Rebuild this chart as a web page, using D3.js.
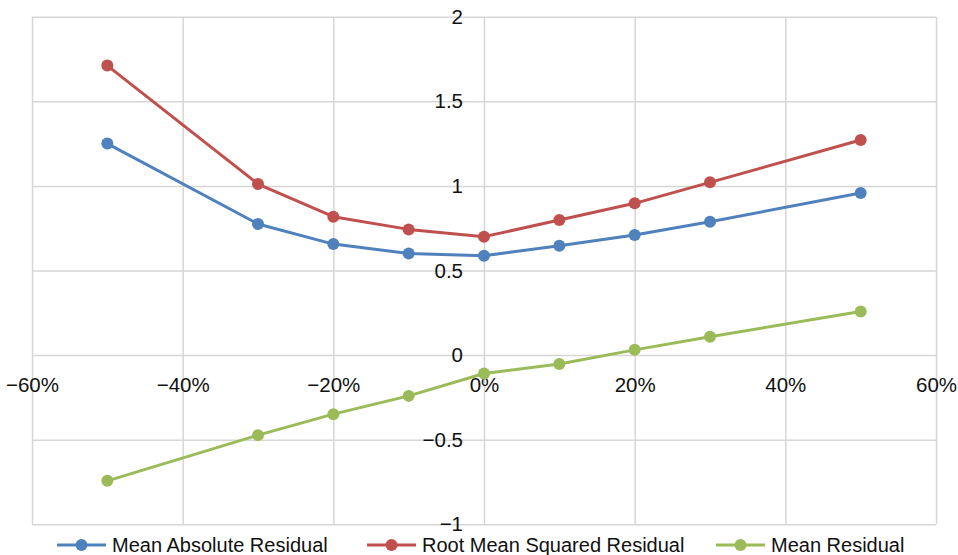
<!DOCTYPE html>
<html>
<head>
<meta charset="utf-8">
<script src="https://cdn.jsdelivr.net/npm/d3@7"></script>
<style>
  html, body { margin: 0; padding: 0; background: #fff; }
  svg { display: block; font-family: "Liberation Sans", Arial, Helvetica, sans-serif; }
</style>
</head>
<body>
<svg id="chart" width="958" height="555"></svg>
<script>
// ---- data ----
const xValues = [-0.5, -0.3, -0.2, -0.1, 0, 0.1, 0.2, 0.3, 0.5];
const meanAbsoluteResidual = [1.25, 0.775, 0.656, 0.601, 0.587, 0.646, 0.71, 0.788, 0.958];
const rootMeanSquaredResidual = [1.711, 1.011, 0.818, 0.743, 0.70, 0.798, 0.897, 1.021, 1.271];
const meanResidual = [-0.743, -0.473, -0.349, -0.241, -0.109, -0.053, 0.031, 0.108, 0.258];
const seriesNames = ["Mean Absolute Residual", "Root Mean Squared Residual", "Mean Residual"];
const seriesColors = ["#4F81BD", "#C0504D", "#9BBB59"];
const xTicks = [-0.6, -0.4, -0.2, 0, 0.2, 0.4, 0.6];
const yTicks = [-1, -0.5, 0, 0.5, 1, 1.5, 2];

const series = [meanAbsoluteResidual, rootMeanSquaredResidual, meanResidual].map((vals, i) => ({
  name: seriesNames[i], color: seriesColors[i],
  points: vals.map((v, j) => ({ x: xValues[j], y: v }))
}));

const svg = d3.select("#chart");
const mLeft = 32, mRight = 936, mTop = 16.7, mBottom = 524.3;
const x = d3.scaleLinear().domain([-0.6, 0.6]).range([mLeft, mRight]);
const y = d3.scaleLinear().domain([-1, 2]).range([mBottom, mTop]);

// gridlines
const gx = svg.append("g").attr("transform", `translate(0,${mBottom})`)
  .call(d3.axisBottom(x).tickValues(xTicks).tickSize(-(mBottom - mTop)).tickFormat(""));
const gy = svg.append("g").attr("transform", `translate(${mLeft},0)`)
  .call(d3.axisLeft(y).tickValues(yTicks).tickSize(-(mRight - mLeft)).tickFormat(""));
[gx, gy].forEach(g => {
  g.select(".domain").remove();
  g.selectAll("line").attr("stroke", "#d6d6d6").attr("stroke-width", 1.5);
});

// axis labels (crossing at zero)
const ay = svg.append("g").attr("transform", `translate(${x(0)},0)`)
  .call(d3.axisLeft(y).tickValues(yTicks).tickSize(0).tickPadding(21)
    .tickFormat(d => d3.format("")(d).replace("-", "\u2212")));
const ax = svg.append("g").attr("transform", `translate(0,${y(0)})`)
  .call(d3.axisBottom(x).tickValues(xTicks).tickSize(0).tickPadding(22)
    .tickFormat(d3.format(".0%")));
[ax, ay].forEach(g => {
  g.select(".domain").remove();
  g.selectAll("text").attr("font-size", 20.5).attr("fill", "#111")
    .attr("font-family", "'Liberation Sans', Arial, sans-serif");
});

// lines and markers
const line = d3.line().x(d => x(d.x)).y(d => y(d.y));
series.forEach(s => {
  svg.append("path").datum(s.points)
    .attr("fill", "none").attr("stroke", s.color).attr("stroke-width", 3)
    .attr("stroke-linejoin", "round").attr("d", line);
  svg.append("g").selectAll("circle").data(s.points).join("circle")
    .attr("cx", d => x(d.x)).attr("cy", d => y(d.y)).attr("r", 6)
    .attr("fill", s.color);
});

// legend
const legendY = 545;
const legendStarts = [57, 367, 716];
series.forEach((s, i) => {
  const g = svg.append("g").attr("transform", `translate(${legendStarts[i]},${legendY})`);
  g.append("line").attr("x1", 0).attr("x2", 49).attr("y1", 0).attr("y2", 0)
    .attr("stroke", s.color).attr("stroke-width", 3);
  g.append("circle").attr("cx", 24.5).attr("cy", 0).attr("r", 6).attr("fill", s.color);
  g.append("text").attr("x", 55).attr("y", 0).attr("dy", "0.35em")
    .attr("font-size", 20).attr("fill", "#111").text(s.name);
});
</script>
</body>
</html>
